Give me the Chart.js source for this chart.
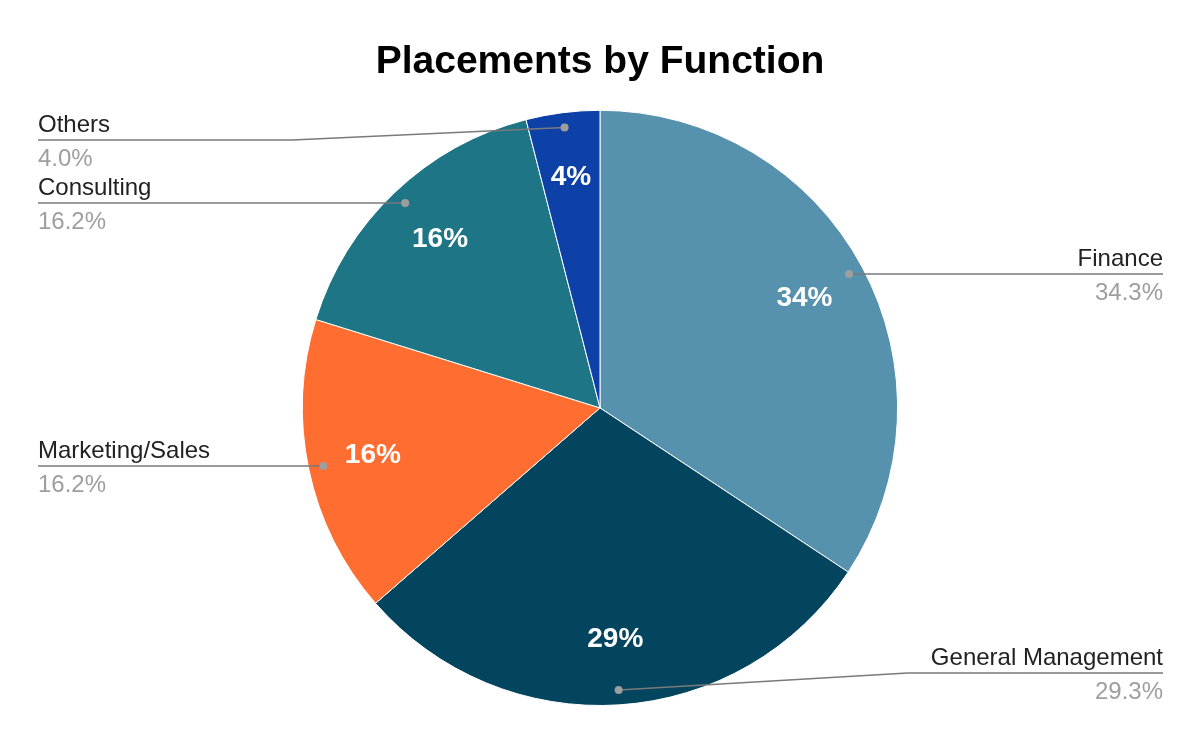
<!DOCTYPE html>
<html>
<head>
<meta charset="utf-8">
<script src="https://cdn.jsdelivr.net/npm/chart.js@4"></script>
<style>
  html, body { margin: 0; padding: 0; background: #fff; }
  #wrap { width: 1200px; height: 742px; }
</style>
</head>
<body>
<div id="wrap"><canvas id="placementsChart" width="1200" height="742"></canvas></div>
<script>
const functions = ['Finance', 'General Management', 'Marketing/Sales', 'Consulting', 'Others'];
const shares = [34.3, 29.3, 16.2, 16.2, 4.0];
const sliceColors = ['#5691ae', '#03445e', '#ff6d31', '#1e7585', '#0e41a8'];

const FONT = '"Liberation Sans", Arial, sans-serif';

// leader lines + labels at the chart edges
const sideLabels = {
  id: 'sideLabels',
  afterDatasetsDraw(chart) {
    const ctx = chart.ctx;
    const arcs = chart.getDatasetMeta(0).data;
    const W = chart.width;
    const leftX = 38, rightX = W - 37;
    const minY = 140, maxY = 673;
    ctx.save();
    arcs.forEach((arc, i) => {
      const mid = (arc.startAngle + arc.endAngle) / 2;
      const r = arc.outerRadius * 0.95;
      const dx = arc.x + Math.cos(mid) * r;
      const dy = arc.y + Math.sin(mid) * r;
      const right = Math.cos(mid) >= 0;
      const lineY = Math.min(maxY, Math.max(minY, dy));
      const elbowX = right ? arc.x + arc.outerRadius + 10 : arc.x - arc.outerRadius - 10;

      ctx.strokeStyle = '#7a7a7a';
      ctx.lineWidth = 1.5;
      ctx.beginPath();
      ctx.moveTo(dx, dy);
      if (Math.abs(lineY - dy) > 0.5) ctx.lineTo(elbowX, lineY);
      ctx.lineTo(right ? rightX : leftX, lineY);
      ctx.stroke();

      ctx.fillStyle = '#9e9e9e';
      ctx.beginPath();
      ctx.arc(dx, dy, 4, 0, Math.PI * 2);
      ctx.fill();

      ctx.textAlign = right ? 'right' : 'left';
      ctx.textBaseline = 'alphabetic';
      ctx.font = '24px ' + FONT;
      ctx.fillStyle = '#222222';
      ctx.fillText(functions[i], right ? rightX : leftX, lineY - 8);
      ctx.fillStyle = '#9e9e9e';
      ctx.fillText(shares[i].toFixed(1) + '%', right ? rightX : leftX, lineY + 26);
    });

    // percentages inside slices
    ctx.font = 'bold 28px ' + FONT;
    ctx.fillStyle = '#ffffff';
    ctx.textAlign = 'center';
    ctx.textBaseline = 'middle';
    arcs.forEach((arc, i) => {
      const mid = (arc.startAngle + arc.endAngle) / 2;
      const r = arc.outerRadius * 0.78;
      ctx.fillText(Math.round(shares[i]) + '%', arc.x + Math.cos(mid) * r, arc.y + Math.sin(mid) * r);
    });
    ctx.restore();
  }
};

new Chart(document.getElementById('placementsChart'), {
  type: 'pie',
  data: {
    labels: functions,
    datasets: [{
      data: shares,
      backgroundColor: sliceColors,
      borderColor: '#ffffff',
      borderWidth: 1
    }]
  },
  options: {
    responsive: false,
    animation: false,
    layout: { padding: { top: 0, bottom: 36, left: 0, right: 0 } },
    plugins: {
      legend: { display: false },
      tooltip: { enabled: false },
      title: {
        display: true,
        text: 'Placements by Function',
        color: '#000000',
        font: { family: FONT, size: 39, weight: 'bold', lineHeight: 1.2 },
        padding: { top: 39, bottom: 24 }
      }
    }
  },
  plugins: [sideLabels]
});
</script>
</body>
</html>
